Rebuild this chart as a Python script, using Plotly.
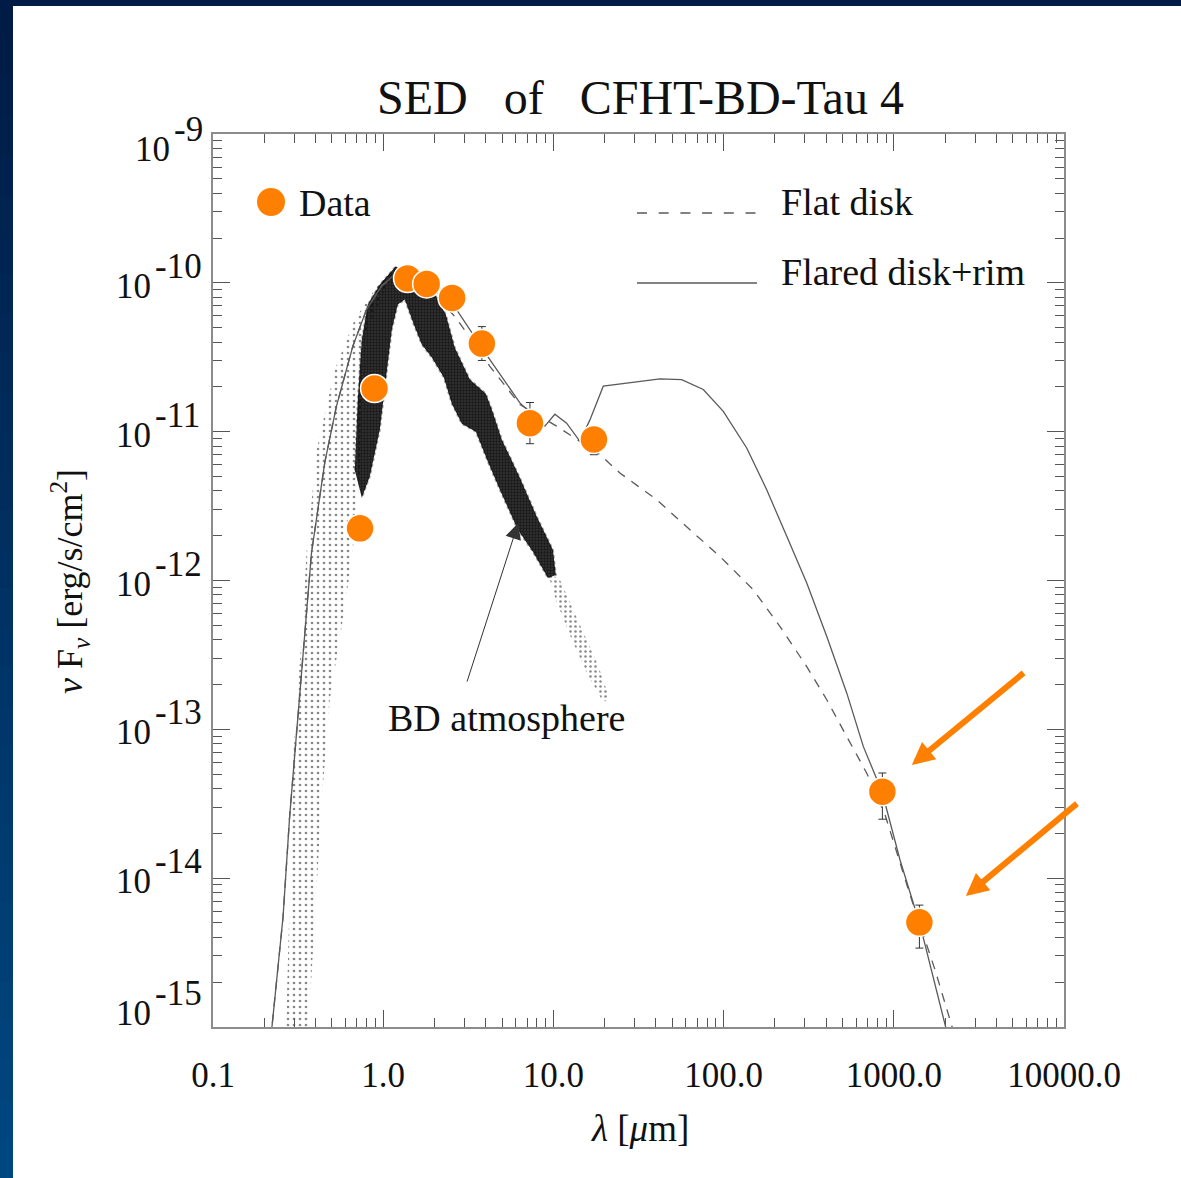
import plotly.graph_objects as go

# ---------------- data ----------------
data_wl = [0.731, 0.889, 1.39, 1.80, 2.54, 3.80, 7.28, 17.3, 857, 1414]
data_flux = [2.24e-12, 1.95e-11, 1.07e-10, 9.84e-11, 7.92e-11, 3.91e-11, 1.14e-11, 8.87e-12, 3.81e-14, 5.05e-15]
data_err_up = [0, 0, 0, 0, 0, 1.17e-11, 4.3e-12, 1.6e-12, 1.28e-14, 1.54e-15]
data_err_dn = [0, 0, 0, 0, 0, 0.9e-11, 3.1e-12, 1.87e-12, 1.32e-14, 1.66e-15]

flared_wl = [0.218, 0.258, 0.282, 0.316, 0.346, 0.379, 0.4535, 0.531, 0.663, 0.798, 0.977, 1.17,
             1.879, 2.698, 4.233, 6.356, 8.913, 10.20, 11.96, 14.31, 16.39, 19.63, 42.28, 56.7,
             75.97, 99.6, 136.7, 179.2, 235.0, 308.0, 403.9, 529.5, 662.6, 853.8, 1089, 1428, 2110]
flared_flux = [8.15e-16, 5.50e-15, 2.59e-14, 1.22e-13, 4.43e-13, 1.53e-12, 6.19e-12, 1.48e-11,
               3.75e-11, 6.61e-11, 9.49e-11, 1.14e-10, 9.44e-11, 6.61e-11, 3.05e-11, 1.56e-11,
               1.09e-11, 1.31e-11, 1.14e-11, 8.61e-12, 1.20e-11, 2.02e-11, 2.26e-11, 2.24e-11,
               1.92e-11, 1.37e-11, 7.77e-12, 4.07e-12, 1.98e-12, 9.61e-13, 4.20e-13, 1.75e-13,
               7.65e-14, 3.79e-14, 1.32e-14, 4.83e-15, 8.15e-16]

flat_wl = [0.218, 0.258, 0.282, 0.316, 0.346, 0.379, 0.4535, 0.531, 0.663, 0.798, 0.977, 1.17,
           1.879, 2.673, 4.233, 6.356, 10.44, 13.69, 18.77, 24.60, 40.44, 63.45, 95.3, 149.5,
           214.6, 308.0, 403.9, 529.5, 693.9, 888.9, 1247, 1749, 2324]
flat_flux = [8.15e-16, 5.50e-15, 2.59e-14, 1.22e-13, 4.43e-13, 1.53e-12, 6.19e-12, 1.48e-11,
             3.75e-11, 6.61e-11, 9.49e-11, 1.14e-10, 9.01e-11, 5.84e-11, 2.75e-11, 1.52e-11,
             1.09e-11, 8.84e-12, 7.00e-12, 5.27e-12, 3.49e-12, 2.19e-12, 1.45e-12, 8.66e-13,
             4.90e-13, 2.64e-13, 1.58e-13, 8.93e-14, 5.07e-14, 2.66e-14, 7.69e-15, 2.41e-15, 8.15e-16]

# BD atmosphere spectrum: outlines of the dense core, the sparse blue flank and the red tail
atm_core_wl = [0.681, 0.709, 0.749, 0.812, 0.955, 1.186, 1.433, 1.641, 1.984, 2.333, 2.636, 3.229,
               4.010, 4.349, 4.980, 6.356, 7.998, 9.933, 10.34, 9.284, 7.577, 6.186, 4.847, 4.120,
               3.503, 2.898, 2.531, 2.271, 1.931, 1.686, 1.513, 1.340, 1.218, 1.124, 1.036, 0.955,
               0.834, 0.749]
atm_core_flux = [5.5e-12, 1.64e-11, 4.16e-11, 7.14e-11, 9.74e-11, 1.29e-10, 1.09e-10, 1.02e-10,
                 8.60e-11, 6.12e-11, 3.67e-11, 2.24e-11, 1.80e-11, 1.41e-11, 8.84e-12, 4.90e-12,
                 2.68e-12, 1.61e-12, 1.09e-12, 1.04e-12, 1.56e-12, 2.19e-12, 4.07e-12, 6.28e-12,
                 1.00e-11, 1.13e-11, 1.54e-11, 2.31e-11, 3.15e-11, 3.85e-11, 5.24e-11, 7.72e-11,
                 7.14e-11, 4.85e-11, 2.24e-11, 1.03e-11, 5.0e-12, 3.6e-12]
atm_flank_wl = [0.2676, 0.2824, 0.2981, 0.3278, 0.3555, 0.4070, 0.5194, 0.6808, 0.8925, 1.186,
                0.749, 0.7286, 0.6537, 0.5788, 0.4854, 0.4355, 0.4015, 0.3702, 0.3603]
atm_flank_flux = [8.15e-16, 7.12e-15, 7.27e-14, 3.42e-13, 1.61e-12, 7.57e-12, 2.61e-11, 5.66e-11,
                  9.01e-11, 1.29e-10, 4.16e-11, 4.75e-12, 1.38e-12, 5.44e-13, 1.58e-13, 3.35e-14,
                  7.12e-15, 1.51e-15, 8.15e-16]
atm_tail_wl = [9.799, 10.92, 14.31, 18.27, 21.49, 19.54, 15.95, 12.85, 10.34, 9.537]
atm_tail_flux = [1.09e-12, 1.01e-12, 5.04e-13, 2.71e-13, 1.58e-13, 1.53e-13, 2.32e-13, 3.99e-13,
                 7.42e-13, 1.01e-12]

x_tickvals = [0.1, 1, 10, 100, 1000, 10000]
x_ticktext = ["0.1", "1.0", "10.0", "100.0", "1000.0", "10000.0"]
y_exponents = [-9, -10, -11, -12, -13, -14, -15]

# ---------------- styling ----------------
SERIF = "Liberation Serif"
ORANGE = "#FF8000"
LINE = "#5a5a5a"
W, H = 1181, 1178
ML, MR, MT, MB = 213, 117, 134, 151

fig = go.Figure()

fig.add_trace(go.Scatter(x=atm_flank_wl, y=atm_flank_flux, mode="lines", fill="toself",
                         line=dict(width=0, color="rgba(0,0,0,0)"),
                         fillcolor="rgba(0,0,0,0)",
                         fillpattern=dict(shape=".", fgcolor="#111", bgcolor="rgba(0,0,0,0)",
                                          size=6, solidity=0.16),
                         hoverinfo="skip", showlegend=False))
fig.add_trace(go.Scatter(x=atm_tail_wl, y=atm_tail_flux, mode="lines", fill="toself",
                         line=dict(width=0, color="rgba(0,0,0,0)"),
                         fillcolor="rgba(0,0,0,0)",
                         fillpattern=dict(shape=".", fgcolor="#111", bgcolor="rgba(0,0,0,0)",
                                          size=5, solidity=0.2),
                         hoverinfo="skip", showlegend=False))
fig.add_trace(go.Scatter(x=atm_core_wl, y=atm_core_flux, mode="lines", fill="toself",
                         line=dict(width=2, color="rgba(0,0,0,0.35)", dash="dot"),
                         fillcolor="rgba(0,0,0,0.8)",
                         fillpattern=dict(shape=".", fgcolor="black", bgcolor="rgba(0,0,0,0.8)",
                                          size=3, solidity=0.5),
                         hoverinfo="skip", showlegend=False, name="BD atmosphere"))

fig.add_trace(go.Scatter(x=flat_wl, y=flat_flux, mode="lines", name="Flat disk",
                         line=dict(color=LINE, width=1.3, dash="9px,8px"), showlegend=False))
fig.add_trace(go.Scatter(x=flared_wl, y=flared_flux, mode="lines", name="Flared disk+rim",
                         line=dict(color=LINE, width=1.3), showlegend=False))

fig.add_trace(go.Scatter(x=data_wl, y=data_flux, mode="markers",
                         marker=dict(size=1, color="rgba(0,0,0,0)"),
                         error_y=dict(type="data", array=data_err_up, arrayminus=data_err_dn,
                                      color="#333", thickness=1, width=4),
                         hoverinfo="skip", showlegend=False))
fig.add_trace(go.Scatter(x=data_wl, y=data_flux, mode="markers", name="Data",
                         marker=dict(size=28, color=ORANGE, line=dict(color="white", width=1.5)),
                         showlegend=False))

minor_x = [m * 10.0 ** e for e in range(-1, 4) for m in range(2, 10)]
minor_y = [m * 10.0 ** e for e in range(-15, -9) for m in range(2, 10)]

axis_common = dict(type="log", showgrid=False, zeroline=False, ticks="inside", ticklen=17,
                   tickwidth=1.3, tickcolor="#555", showline=True, linecolor="#8c8c8c",
                   linewidth=2, mirror="ticks")

fig.update_xaxes(range=[-1, 4], tickmode="array", tickvals=x_tickvals, ticktext=x_ticktext,
                 tickfont=dict(family=SERIF, size=35, color="#111"), ticklabelstandoff=16,
                 minor=dict(tickmode="array", tickvals=minor_x, ticks="inside", ticklen=9,
                            tickcolor="#555", tickwidth=1.3, showgrid=False),
                 **axis_common)
fig.update_yaxes(range=[-15, -9], tickmode="array", tickvals=[10.0 ** e for e in y_exponents],
                 showticklabels=False,
                 minor=dict(tickmode="array", tickvals=minor_y, ticks="inside", ticklen=9,
                            tickcolor="#555", tickwidth=1.3, showgrid=False),
                 **axis_common)

def px_x(p):
    return (p - ML) / (W - ML - MR)

def px_y(p):
    return (H - MB - p) / (H - MT - MB)

ann = []
# y tick labels "10" with full-size exponent
for e in y_exponents:
    xb = px_x(172) if e == -9 else px_x(153)
    shift = -3.5
    if e == -9:
        shift = -15
    if e == -15:
        shift = 14
    ann.append(dict(text="10", x=xb, xref="paper", y=e, yref="y", xanchor="right",
                    yanchor="middle", yshift=shift, showarrow=False,
                    font=dict(family=SERIF, size=35, color="#111")))
    ann.append(dict(text=str(e), x=xb, xref="paper", y=e, yref="y", xanchor="left",
                    yanchor="middle", yshift=shift + 20, showarrow=False,
                    font=dict(family=SERIF, size=35, color="#111")))

ann.append(dict(text="SED\u00a0\u00a0\u00a0of\u00a0\u00a0\u00a0CFHT-BD-Tau 4", x=px_x(640), y=px_y(97),
                xref="paper", yref="paper", showarrow=False, xanchor="center", yanchor="middle",
                font=dict(family=SERIF, size=48, color="#111")))
ann.append(dict(text="<i>λ</i> [<i>μ</i>m]", x=px_x(640), y=px_y(1128), xref="paper", yref="paper",
                showarrow=False, xanchor="center", yanchor="middle",
                font=dict(family=SERIF, size=37, color="#111")))
ann.append(dict(text="<i>ν</i> F<sub><i>ν</i></sub> [erg/s/cm<sup>2</sup>]", x=px_x(70), y=px_y(582),
                xref="paper", yref="paper", showarrow=False, textangle=-90,
                xanchor="center", yanchor="middle",
                font=dict(family=SERIF, size=36, color="#111")))
# legend texts
ann.append(dict(text="Data", x=px_x(297), y=px_y(203), xref="paper", yref="paper", showarrow=False,
                xanchor="left", yanchor="middle", font=dict(family=SERIF, size=38, color="#111")))
ann.append(dict(text="Flat disk", x=px_x(779), y=px_y(202), xref="paper", yref="paper",
                showarrow=False, xanchor="left", yanchor="middle",
                font=dict(family=SERIF, size=38, color="#111")))
ann.append(dict(text="Flared disk+rim", x=px_x(779), y=px_y(272), xref="paper", yref="paper",
                showarrow=False, xanchor="left", yanchor="middle",
                font=dict(family=SERIF, size=38, color="#111")))
# BD atmosphere label + arrow
ann.append(dict(text="BD atmosphere", x=0.7266, y=-12.923, xref="x", yref="y", showarrow=False,
                xanchor="center", yanchor="middle", font=dict(family=SERIF, size=38, color="#111")))
ann.append(dict(text="", x=0.7931, y=-11.614, xref="x", yref="y", showarrow=True,
                ax=-51.6, ay=160, arrowhead=2, arrowsize=3.2, arrowwidth=1, arrowcolor="#333",
                standoff=0))
# orange highlight arrows
ann.append(dict(text="", x=3.1058, y=-13.2394, xref="x", yref="y", showarrow=True,
                ax=113.3, ay=-93.3, arrowhead=2, arrowsize=0.75, arrowwidth=6, arrowcolor=ORANGE,
                standoff=0))
ann.append(dict(text="", x=3.4233, y=-14.1204, xref="x", yref="y", showarrow=True,
                ax=112.6, ay=-93.7, arrowhead=2, arrowsize=0.75, arrowwidth=6, arrowcolor=ORANGE,
                standoff=0))

shapes = []
# slide background: white panel with a dark blue gradient strip on the left
shapes.append(dict(type="rect", xref="paper", yref="paper", x0=px_x(13), x1=px_x(W + 20),
                   y0=px_y(H + 20), y1=px_y(6), fillcolor="white", line=dict(width=0),
                   layer="below"))
nb = 30
for i in range(nb):
    t = (i + 0.5) / nb
    g = int(27 + (72 - 27) * t)
    b = int(70 + (128 - 70) * t)
    shapes.append(dict(type="rect", xref="paper", yref="paper", x0=px_x(-5), x1=px_x(13),
                       y0=px_y(H * (i + 1) / nb + 1), y1=px_y(H * i / nb - 1),
                       fillcolor=f"rgb(0,{g},{b})", line=dict(width=0), layer="below"))
# legend samples
shapes.append(dict(type="circle", xref="paper", yref="paper", xsizemode="pixel", ysizemode="pixel",
                   xanchor=px_x(271), yanchor=px_y(202), x0=-14, x1=14, y0=-14, y1=14,
                   fillcolor=ORANGE, line=dict(width=0)))
shapes.append(dict(type="line", xref="paper", yref="paper", x0=px_x(637), x1=px_x(757),
                   y0=px_y(213), y1=px_y(213), line=dict(color=LINE, width=1.3, dash="10px,11.7px")))
shapes.append(dict(type="line", xref="paper", yref="paper", x0=px_x(637), x1=px_x(757),
                   y0=px_y(283), y1=px_y(283), line=dict(color=LINE, width=1.3)))

fig.update_layout(width=W, height=H, margin=dict(l=ML, r=MR, t=MT, b=MB, autoexpand=False),
                  paper_bgcolor="rgb(0,27,70)", plot_bgcolor="white",
                  font=dict(family=SERIF),
                  annotations=ann, shapes=shapes, showlegend=False)

fig.write_html("out.html")
